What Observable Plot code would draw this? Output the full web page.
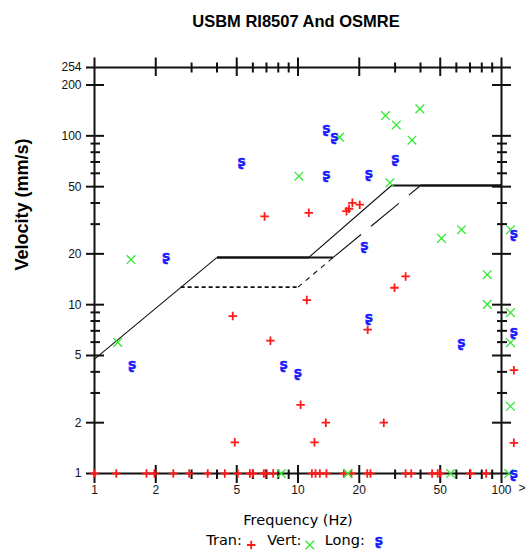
<!DOCTYPE html>
<html><head><meta charset="utf-8">
<script src="https://cdn.jsdelivr.net/npm/d3@7"></script>
<script src="https://cdn.jsdelivr.net/npm/@observablehq/plot@0.6"></script>
<style>html,body{margin:0;padding:0;background:#fff;} #chart{position:relative;width:532px;height:555px;}</style>
</head><body><div id="chart"></div>
<script>
// ---- data (frequency Hz, velocity mm/s) ----
const tranFreq = [4.78, 7.32, 6.85, 11.3, 17.3, 17.8, 18.5, 20.1, 33.8, 29.8, 11.05, 22.0, 10.3, 13.7, 26.4, 115, 12.05, 115, 4.89,
  1.0, 1.28, 1.80, 1.97, 2.44, 2.92, 3.60, 4.37, 5.06, 5.80, 6.00, 6.79, 6.92, 7.55, 11.7, 12.2, 12.8, 13.8, 16.8, 18.3, 21.9, 22.7, 33.8, 36.0, 45.6, 48.6, 50.1, 70.4, 84.1];
const tranVel = [8.56, 6.12, 33.3, 35.0, 35.8, 37.0, 40.1, 39.1, 14.7, 12.6, 10.65, 7.11, 2.55, 2.0, 2.0, 4.09, 1.53, 1.52, 1.53,
  1, 1, 1, 1, 1, 1, 1, 1, 1, 1, 1, 1, 1, 1, 1, 1, 1, 1, 1, 1, 1, 1, 1, 1, 1, 1, 1, 1, 1];
const vertFreq = [1.51, 1.30, 10.1, 16.0, 26.9, 30.4, 39.7, 36.3, 28.3, 50.7, 63.6, 110.7, 85.1, 85.1, 110.7, 110.7, 110.7, 8.27, 17.6, 56.2, 108.6];
const vertVel = [18.5, 5.98, 57.7, 98.1, 131.8, 116, 144.5, 94.2, 52.7, 24.7, 27.8, 27.8, 15.05, 10.04, 8.97, 5.96, 2.50, 1, 1, 1, 1];
const longFreq = [5.28, 13.8, 15.1, 13.8, 30.1, 22.3, 115, 21.2, 22.3, 63.6, 115, 8.51, 10.0, 2.25, 1.53, 115];
const longVel = [70.5, 111, 99.5, 58.8, 73.1, 60.1, 26.3, 22.4, 8.38, 5.96, 6.95, 4.43, 3.96, 19.4, 4.43, 1];

// criteria lines
const osmreFreq = [1, 4, 11.3, 28.8, 100];
const osmreVel = [4.76, 19.05, 19.05, 50.8, 50.8];
const drywallFreq = [4, 14.9, 40, 100];
const drywallVel = [19.05, 19.05, 50.8, 50.8];
const plasterFreq = [2.65, 10, 14.9];
const plasterVel = [12.7, 12.7, 19.05];

// axes
const xMajorTicks = [2, 5, 10, 20, 50];
const xMinorTicks = [3, 4, 6, 7, 8, 9, 30, 40, 60, 70, 80, 90];
const xTickLabels = [1, 2, 5, 10, 20, 50, 100];
const yMajorTicks = [2, 5, 10, 20, 50, 100, 200];
const yMinorTicks = [3, 4, 6, 7, 8, 9, 30, 40, 60, 70, 80, 90];
const yTickLabels = [1, 2, 5, 10, 20, 50, 100, 200, 254];

const titleText = "USBM RI8507 And OSMRE";
const xLabel = "Frequency (Hz)";
const yLabel = "Velocity (mm/s)";

const pts = (fs, vs) => fs.map((f, i) => ({f, v: vs[i]}));
const segs = (fs, vs) => fs.slice(1).map((f, i) => ({f1: fs[i], v1: vs[i], f2: f, v2: vs[i + 1]}));

const W = 532, H = 555, mL = 94, mR = 31, mT = 67, mB = 82;
const fw = W - mL - mR, fh = H - mT - mB;
const RED = "#ff1a1a", GREEN = "#33e833", BLUE = "#1a1aff", INK = "#111";
const DV = "DejaVu Sans";
const PLUS_R = 2.85, TIMES_R = 4, S_SIZE = 14;

const osmreSegs = segs(osmreFreq, osmreVel);
const drySegs = segs(drywallFreq, drywallVel);
const plasterSegs = segs(plasterFreq, plasterVel);

const chart = Plot.plot({
  width: W, height: H,
  marginLeft: mL, marginRight: mR, marginTop: mT, marginBottom: mB,
  x: {type: "log", domain: [1, 100], axis: null},
  y: {type: "log", domain: [1, 254], axis: null},
  style: {fontFamily: "Liberation Sans", background: "white", overflow: "visible", color: INK},
  marks: [
    // axis frame lines
    Plot.ruleX([1, 100], {stroke: INK, strokeWidth: 2, insetTop: -9.5, insetBottom: -10}),
    Plot.ruleY([1, 254], {stroke: INK, strokeWidth: 2, insetLeft: -8, insetRight: -10}),
    // bottom ticks
    Plot.ruleX(xMajorTicks, {stroke: INK, strokeWidth: 2, insetTop: fh - 8, insetBottom: -10}),
    Plot.ruleX(xMinorTicks, {stroke: INK, strokeWidth: 2, insetTop: fh - 3.5, insetBottom: -6}),
    // top ticks
    Plot.ruleX(xMajorTicks, {stroke: INK, strokeWidth: 2, insetTop: -9.5, insetBottom: fh - 9}),
    Plot.ruleX(xMinorTicks, {stroke: INK, strokeWidth: 2, insetTop: -4.5, insetBottom: fh - 5.5}),
    // left ticks
    Plot.ruleY(yMajorTicks, {stroke: INK, strokeWidth: 2, insetLeft: -8, insetRight: fw - 10}),
    Plot.ruleY(yMinorTicks, {stroke: INK, strokeWidth: 2, insetLeft: -3.5, insetRight: fw - 6}),
    // right ticks
    Plot.ruleY(yMajorTicks, {stroke: INK, strokeWidth: 2, insetLeft: fw - 9, insetRight: -10}),
    Plot.ruleY(yMinorTicks, {stroke: INK, strokeWidth: 2, insetLeft: fw - 4, insetRight: -6}),
    // tick labels
    Plot.text(yTickLabels, {y: d => d, text: d => String(d), frameAnchor: "left", dx: -13, textAnchor: "end", fontSize: 12, fill: INK}),
    Plot.text(xTickLabels, {x: d => d, text: d => String(d), frameAnchor: "bottom", dy: 20, fontSize: 12, fill: INK}),
    Plot.text([">"], {frameAnchor: "bottom-right", dx: 24, dy: 18, fontSize: 12, fill: INK}),
    // titles
    Plot.text([titleText], {frameAnchor: "top", dx: -2, dy: -52, fontSize: 16.5, fontWeight: "bold", fill: "#000"}),
    Plot.text([yLabel], {frameAnchor: "left", dx: -72, rotate: -90, fontSize: 18, fontWeight: "bold", fill: "#000"}),
    Plot.text([xLabel], {frameAnchor: "bottom", dy: 51, fontSize: 14.5, fontFamily: DV, fill: "#000"}),
    // criteria lines
    Plot.link(osmreSegs, {x1: "f1", y1: "v1", x2: "f2", y2: "v2", stroke: INK, strokeWidth: d => d.v1 === d.v2 ? 2 : 1.1}),
    Plot.link(drySegs.filter(d => d.v1 === d.v2), {x1: "f1", y1: "v1", x2: "f2", y2: "v2", stroke: INK, strokeWidth: 2}),
    Plot.link(drySegs.filter(d => d.v1 !== d.v2), {x1: "f1", y1: "v1", x2: "f2", y2: "v2", stroke: INK, strokeWidth: 1.1, strokeDasharray: "36,13"}),
    Plot.link(plasterSegs.filter(d => d.v1 === d.v2), {x1: "f1", y1: "v1", x2: "f2", y2: "v2", stroke: INK, strokeWidth: 1.6, strokeDasharray: "4,3"}),
    Plot.link(plasterSegs.filter(d => d.v1 !== d.v2), {x1: "f1", y1: "v1", x2: "f2", y2: "v2", stroke: INK, strokeWidth: 1.1, strokeDasharray: "5,5"}),
    // data
    Plot.dot(pts(tranFreq, tranVel), {x: "f", y: "v", symbol: "plus", r: PLUS_R, stroke: RED, strokeWidth: 1.8}),
    Plot.dot(pts(vertFreq, vertVel), {x: "f", y: "v", symbol: "times", r: TIMES_R, stroke: GREEN, strokeWidth: 1.3}),
    Plot.text(pts(longFreq, longVel), {x: "f", y: "v", text: () => "ʂ", fill: BLUE, stroke: BLUE, strokeWidth: 0.4, fontWeight: "bold", fontSize: S_SIZE, fontFamily: DV}),
    // legend
    Plot.text(["Tran:"], {frameAnchor: "bottom-left", dx: 111.7, dy: 71.5, textAnchor: "start", fontSize: 14.5, fontFamily: DV, fill: "#000"}),
    Plot.dot([0], {frameAnchor: "bottom-left", dx: 156.7, dy: 71.5, symbol: "plus", r: PLUS_R, stroke: RED, strokeWidth: 1.8}),
    Plot.text(["Vert:"], {frameAnchor: "bottom-left", dx: 172.7, dy: 71.5, textAnchor: "start", fontSize: 14.5, fontFamily: DV, fill: "#000"}),
    Plot.dot([0], {frameAnchor: "bottom-left", dx: 215.3, dy: 71.5, symbol: "times", r: TIMES_R, stroke: GREEN, strokeWidth: 1.3}),
    Plot.text(["Long:"], {frameAnchor: "bottom-left", dx: 230.3, dy: 71.5, textAnchor: "start", fontSize: 14.5, fontFamily: DV, fill: "#000"}),
    Plot.text(["ʂ"], {frameAnchor: "bottom-left", dx: 280.3, dy: 71.5, fill: BLUE, stroke: BLUE, strokeWidth: 0.4, fontWeight: "bold", fontSize: S_SIZE, fontFamily: DV})
  ]
});
document.getElementById("chart").appendChild(chart);
</script>
</body></html>
